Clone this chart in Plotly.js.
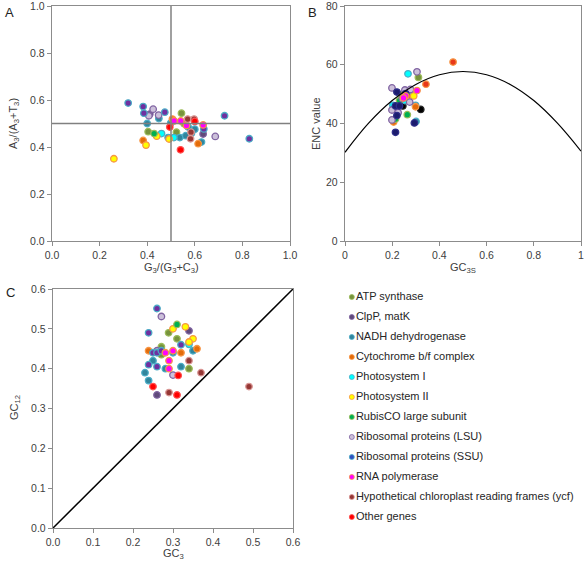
<!DOCTYPE html>
<html><head><meta charset="utf-8">
<script src="https://cdn.plot.ly/plotly-3.0.1.min.js"></script>
<style>html,body{margin:0;padding:0;background:#fff}#chart{width:584px;height:564px}</style>
</head><body><div id="chart"></div>
<script>
const seriesNames = ["ATP synthase","ClpP, matK","NADH dehydrogenase","Cytochrome b/f complex","Photosystem I","Photosystem II","RubisCO large subunit","Ribosomal proteins (LSU)","Ribosomal proteins (SSU)","RNA polymerase","Hypothetical chloroplast reading frames (ycf)","Other genes"];

// Panel A: G3/(G3+C3) (x) vs A3/(A3+T3) (y)
const aX = [
 [0.404,0.544,0.523,0.555],
 [0.411,0.635],
 [0.449,0.400,0.499,0.537,0.572,0.600,0.586,0.562,0.488,0.628],
 [0.383,0.506,0.614],
 [0.460,0.512],
 [0.440,0.395,0.260,0.492],
 [0.429],
 [0.425,0.407,0.448,0.686],
 [0.320,0.383,0.386,0.474,0.638,0.725,0.829],
 [0.513,0.541,0.565,0.635],
 [0.570,0.597,0.584,0.582],
 [0.495,0.600,0.540]
];
const aY = [
 [0.465,0.544,0.463,0.499],
 [0.540,0.455],
 [0.521,0.500,0.502,0.440,0.485,0.476,0.459,0.448,0.440,0.421],
 [0.428,0.519,0.414],
 [0.457,0.440],
 [0.446,0.408,0.350,0.434],
 [0.457],
 [0.561,0.533,0.536,0.445],
 [0.587,0.572,0.544,0.548,0.477,0.533,0.435],
 [0.511,0.511,0.492,0.494],
 [0.519,0.519,0.463,0.435],
 [0.485,0.509,0.388]
];

// Panel B: GC3s (x) vs ENC (y)
const bX = [
 [0.311,0.240],
 [0.245,0.321],
 [0.299,0.301],
 [0.271,0.299,0.206],
 [0.267,0.285,0.254,0.203],
 [0.291],
 [0.231,0.264,0.214],
 [0.305,0.199,0.254,0.277,0.243,0.274,0.199,0.225,0.199],
 [0.220,0.257,0.214,0.231,0.220,0.294,0.214],
 [0.305,0.257,0.248],
 [],
 [0.458,0.343]
];
const bY = [
 [55.7,49.8],
 [46.0,44.8],
 [46.2,40.7],
 [49.6,45.7,40.5],
 [56.9,51.0,47.8,46.2],
 [49.4],
 [47.8,43.0,41.5],
 [57.6,52.1,51.4,51.6,48.5,47.3,44.6,43.7,41.2],
 [50.7,50.2,46.0,46.0,42.7,40.2,37.0],
 [51.2,49.4,48.7],
 [],
 [60.9,53.4]
];
// Expected ENC curve
const curveX = [0,0.1,0.2,0.3,0.4,0.5,0.6,0.7,0.8,0.9,1.0];
const curveY = [30.2,40.1,47.8,53.3,56.6,57.7,56.6,53.3,47.8,40.1,30.6];

// Panel C: GC3 (x) vs GC12 (y)
const cX = [
 [0.289,0.310,0.271,0.271,0.340],
 [0.340,0.260],
 [0.300,0.350,0.250,0.320,0.281,0.230,0.239],
 [0.239,0.320,0.360],
 [0.340],
 [0.300,0.331,0.350,0.340],
 [0.310],
 [0.271,0.260,0.300],
 [0.260,0.239,0.320,0.250,0.260,0.271,0.239,0.260],
 [0.281,0.300,0.290,0.290],
 [0.340,0.370,0.290,0.490],
 [0.313,0.250,0.310]
];
const cY = [
 [0.490,0.475,0.455,0.435,0.400],
 [0.495,0.334],
 [0.440,0.445,0.420,0.405,0.400,0.390,0.370],
 [0.445,0.440,0.450],
 [0.461],
 [0.500,0.505,0.475,0.467],
 [0.511],
 [0.531,0.445,0.384],
 [0.551,0.490,0.460,0.440,0.440,0.445,0.410,0.405],
 [0.440,0.445,0.420,0.400],
 [0.420,0.390,0.340,0.355],
 [0.383,0.355,0.334]
];
const diagX = [0,0.6];
const diagY = [0,0.6];
const refA = [0.5];
// legend rows (category order) and their column
const legendRows = seriesNames.map((n,i)=>i);
const legendCol = seriesNames.map(()=>0);

const fills = ["#77933C","#604A7B","#31859C","#E46C0A","#00FFFF","#FFFF00","#00B050","#CCC0DA","#7030A0","#FF00FF","#953735","#FF0000"];
const rims  = ["#9BBB59","#8064A2","#4BACC6","#F79646","#4BACC6","#F79646","#9BBB59","#8064A2","#4BACC6","#F79646","#D99694","#FF5050"];
const legFills = ["#77933C","#604A7B","#31859C","#E46C0A","#00FFFF","#FFFF00","#00B050","#CCC0DA","#3050C0","#FF00FF","#953735","#FF0000"];
const fillsB = fills.slice(); const rimsB = rims.slice();
fillsB[8] = "#1C1C6E"; rimsB[8] = "#2E2E8A";
fillsB[1] = "#000000"; rimsB[1] = "#222222";
fillsB[11] = "#E8381A"; rimsB[11] = "#F79646";

const FONT = '"Liberation Sans", Arial, sans-serif';
const traces = [];
const msize = 6.5, mline = 1.3;
seriesNames.forEach((n,i)=>{
  traces.push({type:'scatter',mode:'markers',x:aX[i],y:aY[i],xaxis:'x',yaxis:'y',name:n,
    marker:{size:msize,color:fills[i],line:{color:rims[i],width:mline}}});
});
seriesNames.forEach((n,i)=>{
  traces.push({type:'scatter',mode:'markers',x:bX[i],y:bY[i],xaxis:'x2',yaxis:'y2',name:n,
    marker:{size:msize,color:fillsB[i],line:{color:rimsB[i],width:mline}}});
});
traces.push({type:'scatter',mode:'lines',x:curveX,y:curveY,xaxis:'x2',yaxis:'y2',
  line:{color:'#000',width:1.2,shape:'spline',smoothing:1}});
traces.push({type:'scatter',mode:'lines',x:diagX,y:diagY,xaxis:'x3',yaxis:'y3',
  line:{color:'#000',width:1.5}});
seriesNames.forEach((n,i)=>{
  traces.push({type:'scatter',mode:'markers',x:cX[i],y:cY[i],xaxis:'x3',yaxis:'y3',name:n,
    marker:{size:msize,color:fills[i],line:{color:rims[i],width:mline}}});
});
// legend block
traces.push({type:'scatter',mode:'markers+text',x:legendCol,y:legendRows,xaxis:'x4',yaxis:'y4',
  text:seriesNames,textposition:'middle right',textfont:{family:FONT,size:11,color:'#262626'},
  marker:{size:5,color:legFills,line:{color:rims,width:0.8}},cliponaxis:false});

const W=584,H=564;
const tickFont = {family:FONT, size:10.5, color:'#404040'};
function ax(range, dtick, domain, anchor, fmt){
  return {range:range, dtick:dtick, tick0:0, domain:domain, anchor:anchor, showgrid:false, zeroline:false,
    showline:true, mirror:true, linecolor:'#8c8c8c', linewidth:1.2, ticks:'outside', ticklen:4, tickcolor:'#8c8c8c',
    tickfont:tickFont, tickformat:fmt, ticklabeloverflow:'allow', automargin:false, fixedrange:true};
}
function lab(text,x,y,size,rot,color){
  return {text:text,xref:'paper',yref:'paper',x:x/W,y:1-y/H,xanchor:'center',yanchor:'middle',showarrow:false,
    textangle:rot||0,font:{family:FONT,size:size,color:color||'#404040'}};
}
const layout = {
  width:W, height:H, margin:{l:0,r:0,t:0,b:0}, paper_bgcolor:'#fff', plot_bgcolor:'#fff',
  font:{family:FONT}, showlegend:false,
  xaxis: ax([0,1],0.2,[52/W,290/W],'y','.1f'),
  yaxis: ax([0,1],0.2,[1-241/H,1-6/H],'x','.1f'),
  xaxis2: ax([0,1],0.2,[345/W,581/W],'y2',''),
  yaxis2: ax([0,80],20,[1-241/H,1-6/H],'x2',''),
  xaxis3: ax([0,0.6],0.1,[53/W,293/W],'y3','.1f'),
  yaxis3: ax([0,0.6],0.1,[1-528/H,1-289/H],'x3','.1f'),
  xaxis4: {domain:[346/W,584/W],range:[-0.1,4],visible:false,fixedrange:true,anchor:'y4'},
  yaxis4: {domain:[1-527/H,1-287/H],range:[11.5,-0.5],visible:false,fixedrange:true,anchor:'x4'},
  shapes:[
    {type:'line',xref:'x',yref:'y',x0:refA[0],x1:refA[0],y0:0,y1:1,line:{color:'#808080',width:1.5}},
    {type:'line',xref:'x',yref:'y',x0:0,x1:1,y0:refA[0],y1:refA[0],line:{color:'#808080',width:1.5}}
  ],
  annotations:[
    lab('A',9,12,13,0,'#222'),
    lab('B',312,12,13,0,'#222'),
    lab('C',10,293,13,0,'#222'),
    lab('G<sub>3</sub>/(G<sub>3</sub>+C<sub>3</sub>)',171,268,11),
    lab('A<sub>3</sub>/(A<sub>3</sub>+T<sub>3</sub>)',14,124,11,-90),
    lab('GC<sub>3S</sub>',463,268,11),
    lab('ENC value',316,124,11,-90),
    lab('GC<sub>3</sub>',173,554,11),
    lab('GC<sub>12</sub>',15,408,11,-90)
  ]
};
Plotly.newPlot('chart', traces, layout, {staticPlot:true, displayModeBar:false});
</script></body></html>
